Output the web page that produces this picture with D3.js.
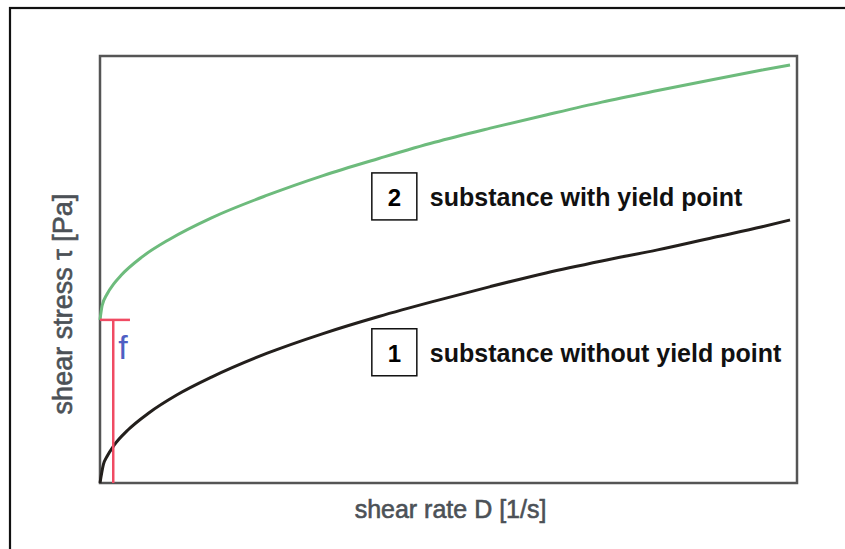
<!DOCTYPE html>
<html>
<head>
<meta charset="utf-8">
<script src="https://cdn.jsdelivr.net/npm/d3@7"></script>
<style>
  body { margin: 0; background: #fff; }
  svg { display: block; font-family: "Liberation Sans", Arial, sans-serif; }
</style>
</head>
<body>
<svg id="chart" width="845" height="549"></svg>
<script>
// shear rate (arbitrary units, 0..100) and read-off stress values
const rateWithYield   = [0, 0.3, 1, 2, 3, 6, 10, 16, 24, 32, 40, 48, 56, 64, 72, 80, 88, 95, 99];
const stressWithYield = [38.2, 41.5, 44.2, 46.7, 48.6, 52.9, 57.1, 62.1, 67.4, 72.0, 76.0, 79.8, 83.1, 86.2, 89.2, 91.9, 94.5, 96.7, 97.9];

const rateNoYield   = [0, 0.5, 1, 2, 4, 7, 11, 16, 24, 32, 40, 48, 56, 64, 72, 80, 88, 95, 99];
const stressNoYield = [0, 4.4, 6.2, 8.8, 12.4, 16.4, 20.6, 24.8, 30.4, 35.0, 39.0, 42.6, 46.0, 49.2, 52.0, 54.6, 57.5, 60.0, 61.6];

const yieldStress = 38.2;
const yieldMarkRate = 1.9;
const yieldCapEnd = 4.3;

const labels = [
    { id: "2", text: "substance with yield point", rate: 39, stress: 67 },
    { id: "1", text: "substance without yield point", rate: 39, stress: 30.5 }
];

const plot = { left: 100, top: 56, right: 797, bottom: 483 };

const svg = d3.select("#chart");

const x = d3.scaleLinear().domain([0, 100]).range([plot.left, plot.right]);
const y = d3.scaleLinear().domain([0, 100]).range([plot.bottom, plot.top]);

// outer frame (runs off the right and bottom)
svg.append("rect")
    .attr("x", 10).attr("y", 8)
    .attr("width", 900).attr("height", 700)
    .attr("fill", "none")
    .attr("stroke", "#111")
    .attr("stroke-width", 2.2);

// plot box
svg.append("rect")
    .attr("x", plot.left).attr("y", plot.top)
    .attr("width", plot.right - plot.left)
    .attr("height", plot.bottom - plot.top)
    .attr("fill", "none")
    .attr("stroke", "#555")
    .attr("stroke-width", 2.5);

const line = d3.line()
    .x(d => x(d[0]))
    .y(d => y(d[1]))
    .curve(d3.curveMonotoneX);

svg.append("path")
    .datum(d3.zip(rateWithYield, stressWithYield))
    .attr("d", line)
    .attr("fill", "none")
    .attr("stroke", "#6dbb7c")
    .attr("stroke-width", 3);

svg.append("path")
    .datum(d3.zip(rateNoYield, stressNoYield))
    .attr("d", line)
    .attr("fill", "none")
    .attr("stroke", "#231f1c")
    .attr("stroke-width", 3);

// yield point marker
svg.append("line")
    .attr("x1", x(0)).attr("x2", x(yieldCapEnd))
    .attr("y1", y(yieldStress)).attr("y2", y(yieldStress))
    .attr("stroke", "#f04b63")
    .attr("stroke-width", 2.5);

svg.append("line")
    .attr("x1", x(yieldMarkRate)).attr("x2", x(yieldMarkRate))
    .attr("y1", y(yieldStress)).attr("y2", y(0))
    .attr("stroke", "#f04b63")
    .attr("stroke-width", 2.5);

svg.append("text")
    .attr("x", x(yieldMarkRate) + 5)
    .attr("y", y(yieldStress) + 39)
    .attr("fill", "#4f5fc4")
    .style("font-size", "34px")
    .text("f");

// curve labels
const lab = svg.selectAll(".curve-label")
    .data(labels)
    .join("g")
    .attr("class", "curve-label")
    .attr("transform", d => `translate(${x(d.rate)}, ${y(d.stress)})`);

lab.append("rect")
    .attr("x", 0).attr("y", -24)
    .attr("width", 45).attr("height", 47)
    .attr("fill", "#fff")
    .attr("stroke", "#111")
    .attr("stroke-width", 1.5);

lab.append("text")
    .attr("x", 22.5).attr("y", 9)
    .attr("text-anchor", "middle")
    .style("font-size", "24px")
    .style("font-weight", "bold")
    .text(d => d.id);

lab.append("text")
    .attr("x", 58).attr("y", 9)
    .style("font-size", "25px")
    .style("font-weight", "bold")
    .attr("fill", "#111")
    .text(d => d.text);

// axis titles
svg.append("text")
    .attr("x", (plot.left + plot.right) / 2 + 2)
    .attr("y", 518)
    .attr("text-anchor", "middle")
    .attr("fill", "#4c5157")
    .attr("stroke", "#4c5157")
    .attr("stroke-width", 0.6)
    .style("font-size", "25px")
    .text("shear rate D [1/s]");

svg.append("text")
    .attr("transform", `translate(72, 304) rotate(-90)`)
    .attr("text-anchor", "middle")
    .attr("fill", "#4c5157")
    .attr("stroke", "#4c5157")
    .attr("stroke-width", 0.6)
    .style("font-size", "27px")
    .text("shear stress τ [Pa]");
</script>
</body>
</html>
